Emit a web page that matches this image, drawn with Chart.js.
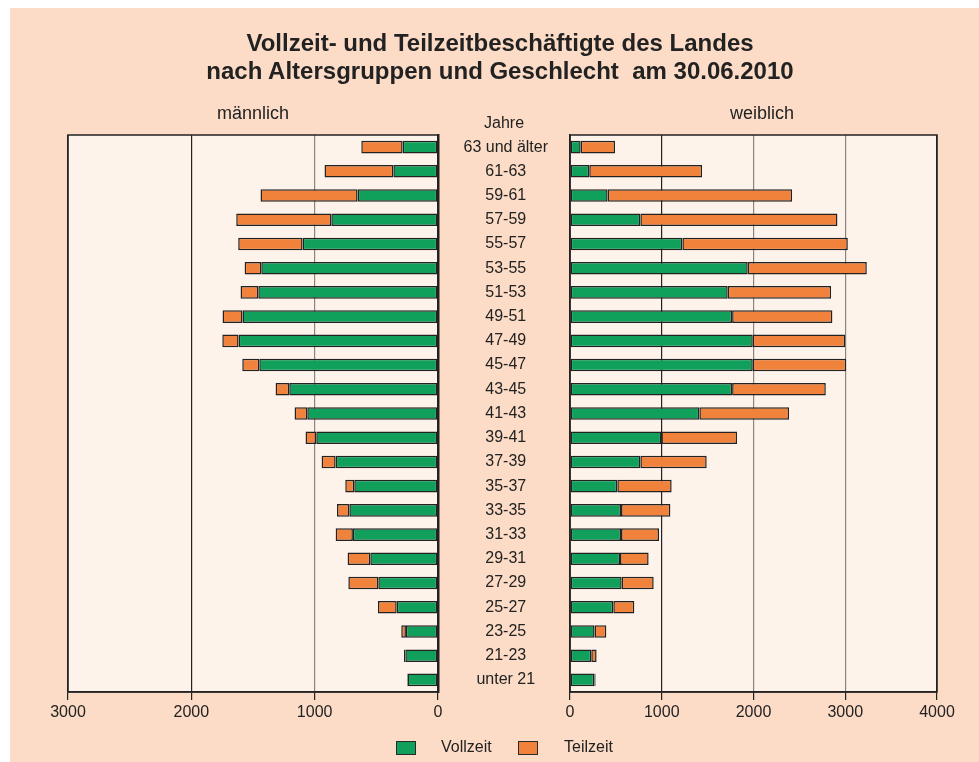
<!DOCTYPE html>
<html>
<head>
<meta charset="utf-8">
<script src="https://cdn.jsdelivr.net/npm/chart.js@4/dist/chart.umd.min.js"></script>
<style>
  body { margin: 0; background: #fff; font-family: "Liberation Sans", Arial, sans-serif; color: #222; }
  #frame { position: absolute; left: 10px; top: 8px; width: 969px; height: 754px; background: #fcdcc6; }
  canvas { position: absolute; left: 0; top: 0; }
  .txt { position: absolute; white-space: pre; }
  #title { left: 0; width: 1000px; top: 29px; text-align: center; font-weight: bold; font-size: 24px; line-height: 28px; }
  .box { position: absolute; width: 18px; height: 12px; border: 1px solid #2a2a2a; }
</style>
</head>
<body>
<div id="frame"></div>
<canvas id="left" width="979" height="762"></canvas>
<canvas id="right" width="979" height="762"></canvas>
<div class="txt" id="title">Vollzeit- und Teilzeitbeschäftigte des Landes
nach Altersgruppen und Geschlecht  am 30.06.2010</div>
<div class="txt" style="left:217px;top:103px;font-size:18px;">männlich</div>
<div class="txt" style="left:730px;top:103px;font-size:18px;">weiblich</div>
<div class="txt" style="left:484px;top:114px;font-size:16px;">Jahre</div>
<div class="box" style="left:396px;top:741px;background:#11a05c;"></div>
<div class="txt" style="left:441px;top:738px;font-size:16px;">Vollzeit</div>
<div class="box" style="left:518px;top:741px;background:#f0823c;"></div>
<div class="txt" style="left:564px;top:738px;font-size:16px;">Teilzeit</div>
<script>
// Altersgruppen, von oben nach unten
var labels = ['63 und älter','61-63','59-61','57-59','55-57','53-55','51-53','49-51','47-49','45-47','43-45','41-43',
              '39-41','37-39','35-37','33-35','31-33','29-31','27-29','25-27','23-25','21-23','unter 21'];

// männlich
var maleVoll = [287, 362, 652, 865, 1098, 1433, 1457, 1585, 1617, 1449, 1206, 1060, 987, 830, 679, 719, 690, 549, 484, 335, 260, 265, 247];
var maleTeil = [335, 558, 787, 771, 522, 135, 144, 162, 132, 138, 111, 103, 87, 114, 73, 100, 140, 184, 243, 152, 38, 11, 5];

// weiblich
var femVoll = [116, 210, 410, 767, 1225, 1937, 1719, 1767, 1992, 1992, 1767, 1410, 996, 767, 516, 556, 556, 545, 563, 472, 268, 232, 265];
var femTeil = [375, 1230, 2011, 2148, 1803, 1298, 1127, 1093, 1007, 1018, 1021, 978, 825, 723, 592, 538, 414, 312, 349, 229, 128, 58, 14];

var leftTicks = [0, 1000, 2000, 3000];
var rightTicks = [0, 1000, 2000, 3000, 4000];

var GREEN = '#11a05c', ORANGE = '#f0823c', DARK = '#222', GREY = '#8a8580';

Chart.defaults.font.family = '"Liberation Sans", Arial, sans-serif';
Chart.defaults.font.size = 16;
Chart.defaults.color = '#222';

// plot background + frame
var panel = {
  id: 'panel',
  beforeDraw: function(chart) {
    var a = chart.chartArea, c = chart.ctx;
    c.save();
    c.fillStyle = '#fef3ea';
    c.fillRect(a.left, a.top, a.right - a.left, a.bottom - a.top);
    c.restore();
  },
  afterDraw: function(chart) {
    var a = chart.chartArea, c = chart.ctx;
    c.save();
    c.strokeStyle = DARK;
    c.lineWidth = 1.5;
    c.strokeRect(a.left, a.top, a.right - a.left, a.bottom - a.top);
    c.restore();
  }
};

function sets(voll, teil) {
  return [
    { label: 'Vollzeit', data: voll, backgroundColor: GREEN, borderColor: DARK, borderWidth: 1.5, borderSkipped: false,
      barPercentage: 0.52, categoryPercentage: 1 },
    { label: 'Teilzeit', data: teil, backgroundColor: ORANGE, borderColor: DARK, borderWidth: 1.5, borderSkipped: false,
      barPercentage: 0.52, categoryPercentage: 1 }
  ];
}

function xScale(ticks, greyVals, reverse) {
  return {
    type: 'linear', stacked: true, reverse: reverse,
    min: ticks[0], max: ticks[ticks.length - 1],
    afterBuildTicks: function(s) { s.ticks = ticks.map(function(v) { return { value: v }; }); },
    afterFit: function(s) { s.height = 40; },
    ticks: { padding: 3, color: '#222', callback: function(v) { return String(v); } },
    border: { color: DARK, width: 1.5 },
    grid: {
      color: function(ctx) { return greyVals.indexOf(ctx.tick.value) >= 0 ? GREY : DARK; },
      lineWidth: 1.2, tickLength: 8, tickColor: DARK
    }
  };
}

// männlich, nach links
new Chart(document.getElementById('left'), {
  type: 'bar',
  data: { labels: labels, datasets: sets(maleVoll, maleTeil) },
  options: {
    indexAxis: 'y', responsive: false, animation: false, events: [],
    layout: { padding: { left: 68, right: 541, top: 135, bottom: 30 } },
    plugins: { legend: { display: false }, tooltip: { enabled: false } },
    scales: {
      x: xScale(leftTicks, [1000], true),
      y: {
        position: 'right', stacked: true,
        afterFit: function(s) { s.width = 0; },
        ticks: { display: false },
        grid: { display: false, drawTicks: false },
        border: { color: DARK, width: 2.5 }
      }
    }
  },
  plugins: [panel]
});

// weiblich, nach rechts
new Chart(document.getElementById('right'), {
  type: 'bar',
  data: { labels: labels, datasets: sets(femVoll, femTeil) },
  options: {
    indexAxis: 'y', responsive: false, animation: false, events: [],
    layout: { padding: { left: 440, right: 42, top: 135, bottom: 30 } },
    plugins: { legend: { display: false }, tooltip: { enabled: false } },
    scales: {
      x: xScale(rightTicks, [2000, 3000], false),
      y: {
        position: 'left', stacked: true,
        afterFit: function(s) { s.width = 130; },
        ticks: { crossAlign: 'center', padding: 22, color: '#222' },
        grid: { display: false, drawTicks: false },
        border: { color: DARK, width: 1.5 }
      }
    }
  },
  plugins: [panel]
});
</script>
</body>
</html>
